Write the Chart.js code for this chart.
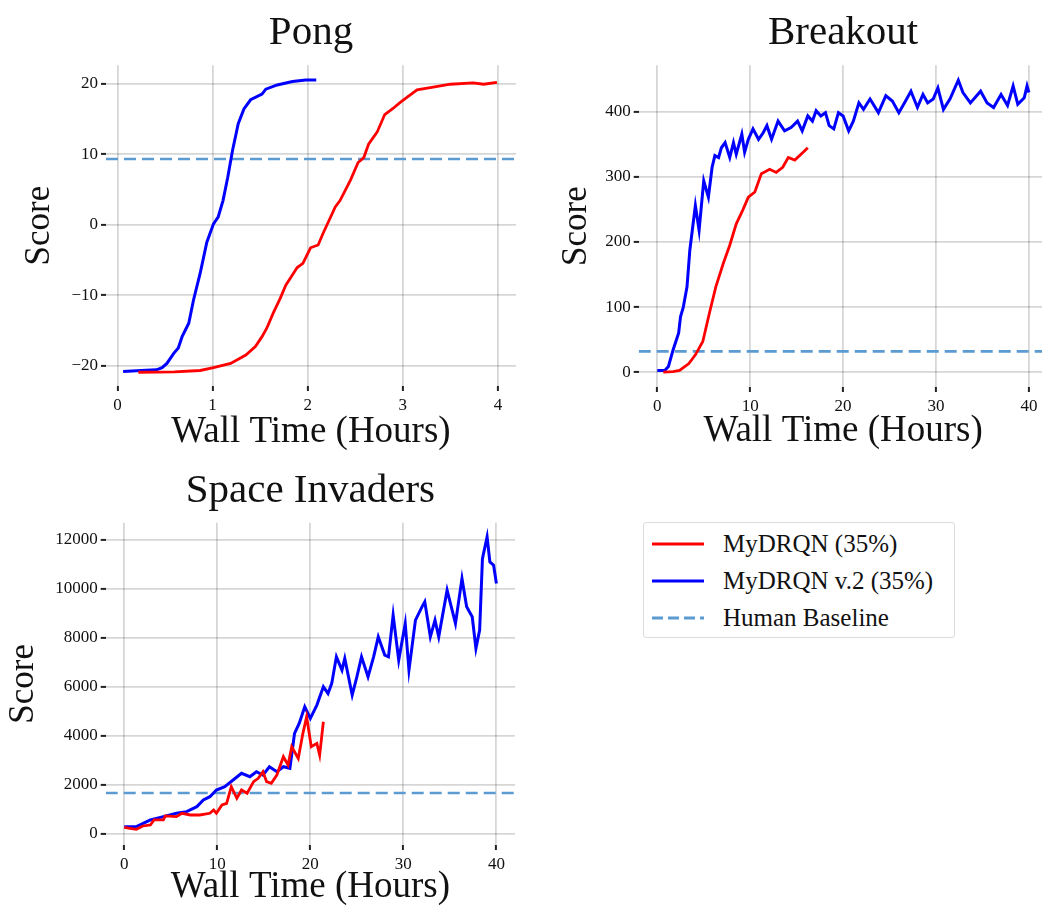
<!DOCTYPE html>
<html>
<head>
<meta charset="utf-8">
<script src="https://cdn.jsdelivr.net/npm/chart.js@4.4.1/dist/chart.umd.min.js"></script>
<style>
  html, body { margin: 0; padding: 0; background: #fff; overflow: hidden; }
  body { width: 1042px; height: 909px; position: relative; }
  canvas { position: absolute; }
  #legend {
    position: absolute; left: 643px; top: 522px; width: 310px; height: 114px;
    border: 1px solid #dcdcdc; border-radius: 3px; background: #fff;
    font-family: 'Liberation Serif', 'Times New Roman', serif; font-size: 25px; color: #111;
  }
  .row { position: absolute; left: 8px; height: 30px; display: flex; align-items: center; }
  .row svg { margin-right: 19px; }
</style>
</head>
<body>
<canvas id="pong" width="520" height="460" style="left:0;top:0"></canvas>
<canvas id="breakout" width="520" height="460" style="left:530px;top:0"></canvas>
<canvas id="invaders" width="520" height="449" style="left:0;top:460px"></canvas>
<div id="legend">
  <div class="row" style="top:6px"><svg width="52" height="6"><line x1="0" y1="3" x2="52" y2="3" stroke="#ff0000" stroke-width="3"/></svg>MyDRQN (35%)</div>
  <div class="row" style="top:43px"><svg width="52" height="6"><line x1="0" y1="3" x2="52" y2="3" stroke="#0000ff" stroke-width="3"/></svg>MyDRQN v.2 (35%)</div>
  <div class="row" style="top:80px"><svg width="52" height="6"><line x1="0" y1="3" x2="52" y2="3" stroke="#5b9bd1" stroke-width="3" stroke-dasharray="11 5"/></svg>Human Baseline</div>
</div>
<script>
// series as [hours, score]
const pongMyDRQN = [[0.22,-20.95],[0.6,-20.9],[0.87,-20.7],[1.01,-20.3],[1.19,-19.7],[1.35,-18.5],[1.45,-17.3],[1.52,-15.9],[1.57,-14.7],[1.64,-12.5],[1.71,-10.5],[1.77,-8.6],[1.89,-6.1],[1.95,-5.5],[2.03,-3.3],[2.11,-2.9],[2.16,-1.3],[2.29,2.5],[2.34,3.4],[2.45,6.3],[2.53,8.8],[2.59,9.5],[2.64,11.4],[2.73,13.1],[2.81,15.6],[2.90,16.5],[2.97,17.3],[3.05,18.1],[3.15,19.1],[3.32,19.5],[3.50,19.9],[3.74,20.1],[3.85,19.9],[3.99,20.15]];
const pongMyDRQNv2 = [[0.06,-20.85],[0.25,-20.7],[0.41,-20.6],[0.47,-20.3],[0.52,-19.7],[0.59,-18.3],[0.64,-17.5],[0.68,-15.9],[0.75,-14.0],[0.80,-10.7],[0.87,-6.9],[0.94,-2.5],[1.01,0.1],[1.06,1.1],[1.11,3.4],[1.16,6.7],[1.21,10.5],[1.27,14.3],[1.33,16.4],[1.40,17.7],[1.52,18.5],[1.56,19.2],[1.68,19.8],[1.84,20.3],[1.98,20.5],[2.09,20.5]];
const pongHuman = 9.3;

const breakoutMyDRQN = [[0.65,0],[1.7,0.5],[2.4,2.5],[3.4,13],[4.1,26.5],[4.9,47],[5.6,90],[6.3,131],[7.1,167],[7.8,195],[8.5,228],[9.2,249],[9.8,269],[10.5,277],[11.2,305],[12.1,312],[12.8,307],[13.5,315],[14.1,330],[14.8,326],[15.7,338],[16.2,345]];
const breakoutMyDRQNv2 = [[0,2.5],[0.8,2.5],[1.2,8.6],[1.7,34],[2.3,60],[2.5,85],[2.8,100],[3.2,131],[3.5,187],[4.1,256],[4.5,218],[5.0,294],[5.5,269],[5.9,315],[6.2,333],[6.6,330],[6.9,345],[7.3,353],[7.8,330],[8.2,353],[8.5,335],[9.1,366],[9.4,338],[9.8,358],[10.3,374],[10.9,358],[11.4,368],[11.8,379],[12.3,358],[13.0,386],[13.7,371],[14.4,376],[15.1,386],[15.6,371],[16.2,394],[16.7,386],[17.1,402],[17.6,394],[18.1,399],[18.5,379],[19.0,374],[19.5,399],[20.0,394],[20.6,371],[21.1,386],[21.7,414],[22.2,404],[22.9,420],[23.8,399],[24.6,425],[25.3,417],[26.0,399],[26.6,414],[27.3,432],[28.0,407],[28.6,427],[29.1,414],[29.7,420],[30.2,437],[30.8,404],[31.5,420],[32.4,449],[32.9,430],[33.7,414],[34.8,432],[35.5,414],[36.2,407],[37.0,427],[37.7,410],[38.3,440],[38.8,412],[39.5,422],[39.8,440],[40.0,430]];
const breakoutHuman = 31.8;

const invadersMyDRQN = [[0,272],[0.6,232],[1.3,190],[2.0,325],[2.8,366],[3.2,570],[4.2,570],[4.4,733],[5.6,705],[6.2,843],[7.1,773],[8.1,773],[9.2,843],[9.6,977],[9.9,843],[10.5,1181],[11.0,1249],[11.5,1926],[12.1,1453],[12.6,1792],[13.2,1657],[13.9,2130],[14.4,2267],[14.9,2537],[15.3,2130],[15.8,2063],[16.4,2402],[17.1,3148],[17.6,2809],[18.0,3555],[18.7,3082],[19.2,4100],[19.6,4776],[20.1,3555],[20.7,3693],[21.0,3217],[21.4,4572]];
const invadersMyDRQNv2 = [[0,297],[1.3,297],[2.8,570],[4.2,705],[5.6,843],[6.7,908],[7.8,1112],[8.5,1384],[9.2,1519],[9.9,1792],[10.8,1926],[11.7,2199],[12.6,2472],[13.5,2334],[14.2,2537],[14.9,2402],[15.6,2740],[16.4,2537],[17.1,2740],[17.8,2675],[18.3,4100],[18.8,4507],[19.4,5183],[20.0,4711],[20.7,5252],[21.4,5998],[21.9,5727],[22.3,6136],[22.8,7219],[23.4,6678],[23.7,7154],[24.5,5660],[25.0,6405],[25.5,7219],[26.2,6405],[26.8,7219],[27.3,8034],[28.0,7289],[28.4,7219],[28.9,8917],[29.5,7085],[30.2,8578],[30.6,6678],[31.3,8714],[32.0,9255],[32.3,9459],[32.9,8034],[33.4,8714],[33.8,8034],[34.7,9935],[35.6,8578],[36.3,10410],[36.8,9255],[37.4,8849],[37.8,7561],[38.2,8306],[38.5,11221],[39.0,12105],[39.3,11087],[39.7,10953],[40.0,10208]];
const invadersHuman = 1669;

const pongXTicks = [0, 1, 2, 3, 4];
const pongYTicks = [-20, -10, 0, 10, 20];
const longXTicks = [0, 10, 20, 30, 40];
const breakoutYTicks = [0, 100, 200, 300, 400];
const invadersYTicks = [0, 2000, 4000, 6000, 8000, 10000, 12000];

const FONT = "'Liberation Serif', 'Times New Roman', serif";
const INK = '#111';
const GRID = 'rgba(0,0,0,0.16)';

function fmt(v) {
  return v < 0 ? '\u2212' + Math.abs(v) : String(v);
}

function makeChart(id, cfg) {
  const pts = arr => arr.map(p => ({ x: p[0], y: p[1] }));
  const ctx = document.getElementById(id).getContext('2d');
  return new Chart(ctx, {
    type: 'line',
    data: {
      datasets: [
        { data: pts(cfg.red), borderColor: '#ff0000', borderWidth: 2.8 },
        { data: pts(cfg.blue), borderColor: '#0000ff', borderWidth: 3 },
        { data: [{ x: cfg.xMin, y: cfg.human }, { x: cfg.xMax, y: cfg.human }],
          borderColor: '#5b9bd1', borderWidth: 2.6, borderDash: [12, 6] }
      ]
    },
    options: {
      responsive: false,
      animation: false,
      devicePixelRatio: 1,
      elements: { point: { radius: 0 }, line: { tension: 0, borderCapStyle: 'butt' } },
      layout: { padding: { left: 0, right: cfg.padRight, top: 0, bottom: 0 } },
      plugins: {
        legend: { display: false },
        tooltip: { enabled: false },
        title: {
          display: true, text: cfg.title, fullSize: false, color: INK,
          font: { family: FONT, size: 41, weight: 'normal', lineHeight: 1.2 },
          padding: { top: cfg.titleTop, bottom: cfg.titleBottom }
        }
      },
      scales: {
        x: {
          type: 'linear', min: cfg.xMin, max: cfg.xMax,
          afterBuildTicks: s => { s.ticks = cfg.xTicks.map(v => ({ value: v })); },
          afterFit: s => { s.height = cfg.xAxisH; },
          border: { display: false },
          grid: { color: GRID, lineWidth: 1.8, drawTicks: true, tickLength: 5, tickColor: '#222', tickWidth: 2 },
          ticks: { color: INK, padding: 4, maxRotation: 0, font: { family: FONT, size: 17 }, callback: fmt },
          title: { display: true, text: 'Wall Time (Hours)', color: INK,
                   font: { family: FONT, size: 37, lineHeight: 1.2 },
                   padding: { top: 0, bottom: cfg.xTitlePad } }
        },
        y: {
          type: 'linear', min: cfg.yMin, max: cfg.yMax,
          afterBuildTicks: s => { s.ticks = cfg.yTicks.map(v => ({ value: v })); },
          afterFit: s => { s.width = cfg.yAxisW; },
          border: { display: false },
          grid: { color: GRID, lineWidth: 1.8, drawTicks: true, tickLength: 5, tickColor: '#222', tickWidth: 2 },
          ticks: { color: INK, padding: 3, font: { family: FONT, size: 17 }, callback: fmt },
          title: { display: true, text: 'Score', color: INK,
                   font: { family: FONT, size: 35, lineHeight: 1.2 },
                   padding: { top: cfg.yTitlePad, bottom: 0 } }
        }
      }
    }
  });
}

makeChart('pong', {
  title: 'Pong', red: pongMyDRQN, blue: pongMyDRQNv2, human: pongHuman,
  xMin: -0.12, xMax: 4.19, yMin: -22.9, yMax: 22.6,
  xTicks: pongXTicks, yTicks: pongYTicks,
  yAxisW: 106, xAxisH: 74, padRight: 4, titleTop: 9, titleBottom: 7,
  xTitlePad: 6, yTitlePad: 19
});

makeChart('breakout', {
  title: 'Breakout', red: breakoutMyDRQN, blue: breakoutMyDRQNv2, human: breakoutHuman,
  xMin: -2, xMax: 42, yMin: -23, yMax: 472,
  xTicks: longXTicks, yTicks: breakoutYTicks,
  yAxisW: 108.7, xAxisH: 73, padRight: 2.5, titleTop: 9, titleBottom: 7,
  xTitlePad: 7, yTitlePad: 26
});

makeChart('invaders', {
  title: 'Space Invaders', red: invadersMyDRQN, blue: invadersMyDRQNv2, human: invadersHuman,
  xMin: -2, xMax: 42, yMin: -450, yMax: 12680,
  xTicks: longXTicks, yTicks: invadersYTicks,
  yAxisW: 105.7, xAxisH: 64, padRight: 5, titleTop: 7, titleBottom: 6.6,
  xTitlePad: 0, yTitlePad: 3
});
</script>
</body>
</html>
